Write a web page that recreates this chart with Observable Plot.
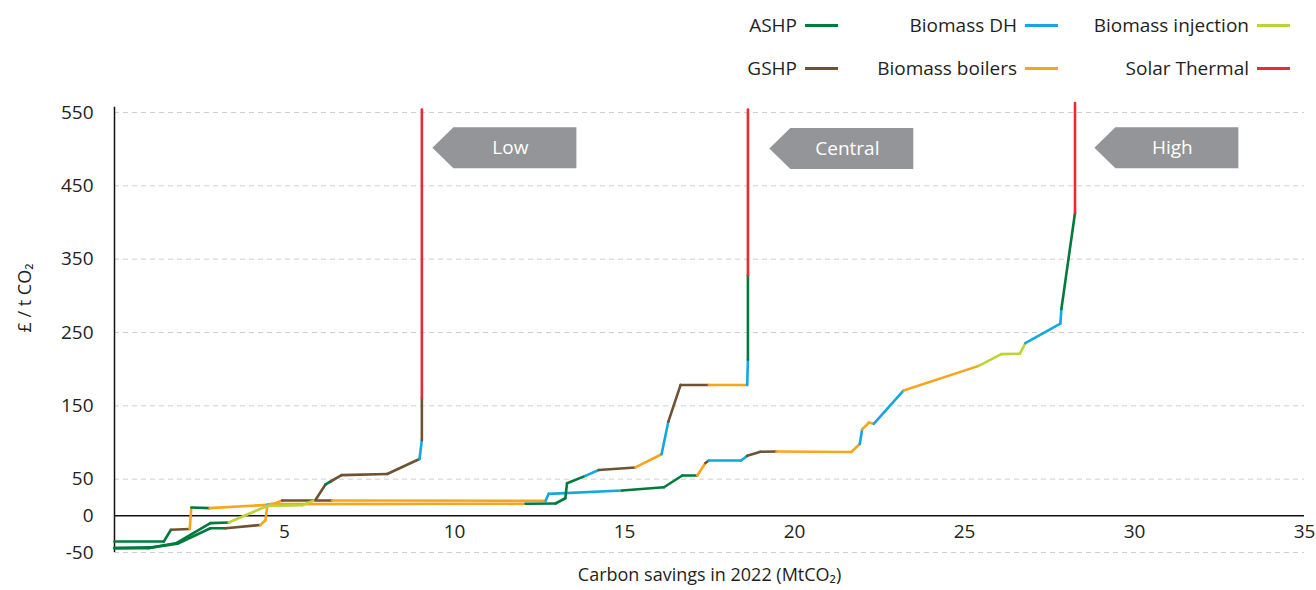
<!DOCTYPE html>
<html><head><meta charset="utf-8">
<script src="https://cdn.jsdelivr.net/npm/d3@7"></script>
<script src="https://cdn.jsdelivr.net/npm/@observablehq/plot@0.6"></script>
<style>
body{margin:0;background:#fff;font-family:"Open Sans",sans-serif;}
#legend{position:relative;width:1316px;height:90px;}
.li{position:absolute;display:flex;align-items:center;font-size:19px;color:#231f20;white-space:nowrap;transform:translateY(-50%);}
.li .sw{display:inline-block;width:33px;height:3px;margin-left:8px;}
#chart svg{display:block;}
</style></head><body>
<div id="legend"></div>
<div id="chart"></div>
<script>
// Technologies and colours
const techs = ["ASHP", "GSHP", "Biomass DH", "Biomass boilers", "Biomass injection", "Solar Thermal"];
const techColors = ["#007a3d", "#6e5232", "#12a8e0", "#f9a51b", "#bdd532", "#ee2a2f"];

// Low scenario: points, and technology of each segment
const lowX = [0, 1.0, 1.83, 2.82, 3.36, 4.49, 5.52, 5.91, 6.21, 6.38, 6.68, 8.02, 8.97, 9.04, 9.04, 9.04];
const lowY = [-44, -44, -37, -10, -9, 13.5, 14.5, 21.5, 43, 47.5, 55.5, 57, 77.5, 103.5, 161, 554];
const lowTech = ["ASHP", "ASHP", "ASHP", "ASHP", "Biomass injection", "Biomass injection", "Biomass injection", "GSHP", "ASHP", "GSHP", "GSHP", "GSHP", "Biomass DH", "GSHP", "Solar Thermal"];

// Central scenario
const centralX = [0, 1.1, 1.85, 2.82, 3.27, 4.29, 4.44, 4.49, 4.6, 12.09, 12.97, 13.26, 13.31, 13.85, 14.24, 15.32, 16.09, 16.29, 16.65, 17.48, 18.61, 18.63, 18.63, 18.63];
const centralY = [-44, -43, -38, -17, -17, -12.5, -6, 12.5, 16, 16.4, 16.8, 24, 44.5, 54.5, 62.5, 66, 84, 128.5, 178.5, 178.5, 178.5, 213, 328, 554];
const centralTech = ["ASHP", "ASHP", "ASHP", "ASHP", "GSHP", "Biomass boilers", "Biomass boilers", "Biomass boilers", "Biomass boilers", "ASHP", "ASHP", "ASHP", "ASHP", "Biomass DH", "GSHP", "Biomass boilers", "Biomass DH", "GSHP", "GSHP", "Biomass boilers", "Biomass DH", "ASHP", "Solar Thermal"];

// High scenario
const highX = [0, 1.45, 1.66, 2.21, 2.26, 2.8, 4.49, 4.69, 4.93, 6.4, 12.68, 12.77, 14.93, 16.16, 16.7, 17.14, 17.38, 17.48, 18.43, 18.61, 19.0, 19.47, 21.67, 21.92, 21.99, 22.19, 22.33, 23.21, 25.42, 26.08, 26.63, 26.79, 27.82, 27.85, 28.25, 28.25];
const highY = [-35, -35, -19, -18, 11.3, 10.5, 15, 16.4, 20.9, 20.9, 20.5, 30, 34.5, 39, 55, 55, 72, 75.4, 75.4, 81.8, 87.3, 87.7, 87, 98, 118, 127.3, 125.5, 171, 204.5, 220.5, 221, 235.5, 262, 282, 413, 563];
const highTech = ["ASHP", "ASHP", "GSHP", "Biomass boilers", "ASHP", "Biomass boilers", "Biomass DH", "Biomass boilers", "GSHP", "Biomass boilers", "Biomass DH", "Biomass DH", "ASHP", "ASHP", "ASHP", "Biomass boilers", "GSHP", "Biomass DH", "Biomass DH", "GSHP", "GSHP", "Biomass boilers", "Biomass boilers", "Biomass DH", "Biomass boilers", "Biomass boilers", "Biomass DH", "Biomass boilers", "Biomass injection", "Biomass injection", "Biomass injection", "Biomass DH", "Biomass DH", "ASHP", "Solar Thermal"];

// Scenario annotations
const annLabels = ["Low", "Central", "High"];
const annX = [9.35, 19.26, 28.82];
const annY = [502, 501, 502];

// Axes
const xTicks = [5, 10, 15, 20, 25, 30, 35];
const yTicks = [-50, 0, 50, 150, 250, 350, 450, 550];
const gridValues = [-50, 50, 150, 250, 350, 450, 550];

// Legend (HTML)
const legendRows = [["ASHP", "Biomass DH", "Biomass injection"], ["GSHP", "Biomass boilers", "Solar Thermal"]];
const colRight = [838, 1058, 1290];
const rowTop = [25, 68];
const legend = document.getElementById("legend");
legendRows.forEach((row, r) => row.forEach((t, c) => {
  const d = document.createElement("div");
  d.className = "li";
  d.style.right = (1316 - colRight[c]) + "px";
  d.style.top = rowTop[r] + "px";
  d.innerHTML = `<span>${t}</span><span class="sw" style="background:${techColors[techs.indexOf(t)]}"></span>`;
  legend.appendChild(d);
}));

function segments(xs, ys, ts) {
  const out = [];
  for (let i = 1; i < xs.length; i++) out.push({x1: xs[i - 1], y1: ys[i - 1], x2: xs[i], y2: ys[i], tech: ts[i - 1]});
  return out;
}
const segs = [
  ...segments(highX, highY, highTech),
  ...segments(centralX, centralY, centralTech),
  ...segments(lowX, lowY, lowTech)
];
const ann = annLabels.map((l, i) => ({label: l, x: annX[i], y: annY[i]}));

const arrowSymbol = {
  draw(context) {
    context.moveTo(0, 0);
    context.lineTo(21, -20.5);
    context.lineTo(144, -20.5);
    context.lineTo(144, 20.5);
    context.lineTo(21, 20.5);
    context.closePath();
  }
};

const chart = Plot.plot({
  width: 1316,
  height: 500,
  marginTop: 22,
  marginBottom: 38,
  marginLeft: 114,
  marginRight: 12,
  style: {fontFamily: "'Open Sans', sans-serif", background: "white", color: "#231f20"},
  x: {domain: [0, 35], axis: null},
  y: {domain: [-50, 550], axis: null},
  color: {domain: techs, range: techColors},
  marks: [
    Plot.ruleY(gridValues, {stroke: "#cfcfcf", strokeDasharray: "5,4", strokeWidth: 1}),
    Plot.ruleY([0], {stroke: "#111", strokeWidth: 1.5}),
    Plot.ruleX([0], {y1: -50, y2: 557, stroke: "#111", strokeWidth: 1.5}),
    Plot.text(yTicks, {x: 0, y: d => d, dx: -21, textAnchor: "end", fontSize: 19, fill: "#231f20"}),
    Plot.text(xTicks, {x: d => d, y: 0, dy: 16, fontSize: 19, fill: "#231f20"}),
    Plot.text(["£ / t CO₂"], {frameAnchor: "left", dx: -89, rotate: -90, fontSize: 18, fill: "#231f20"}),
    Plot.text(["Carbon savings in 2022 (MtCO₂)"], {frameAnchor: "bottom", dy: 28, fontSize: 18, fill: "#231f20"}),
    Plot.link(segs, {x1: "x1", y1: "y1", x2: "x2", y2: "y2", stroke: "tech", strokeWidth: 2.6, strokeLinecap: "round"}),
    Plot.dot(ann, {x: "x", y: "y", symbol: arrowSymbol, fill: "#939598", stroke: null, r: 5}),
    Plot.text(ann, {x: "x", y: "y", text: "label", dx: 78, fill: "white", fontSize: 19})
  ]
});
document.getElementById("chart").appendChild(chart);
</script>
</body></html>
